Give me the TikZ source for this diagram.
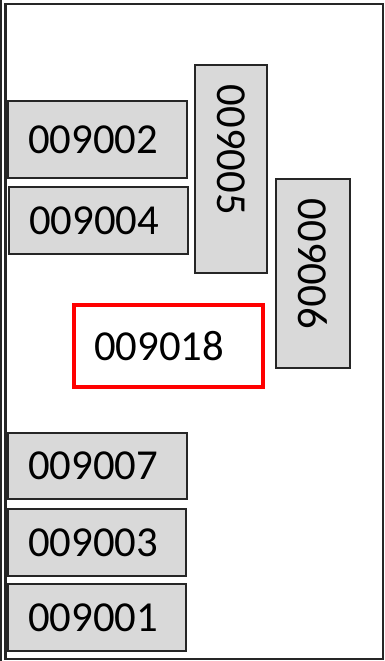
\documentclass[tikz,border=0pt]{standalone}
\usepackage{fontspec}
\setmainfont{Carlito}
\usetikzlibrary{calc}

\begin{document}
\begin{tikzpicture}

    \tikzset{cell/.style={draw, line width=.065cm, draw=black!85, fill=gray!30, align=left, inner xsep=.5cm, inner ysep=0,
        font=\fontsize{30.4}{36}\selectfont}}
    \useasboundingbox (0, 0) rectangle (9.625, 16.525);
    \draw [line width=.05cm, black!85] (.03, 0) -- (.03, 16.525);
    \draw [line width=.065cm, black!85] (.14, .05) rectangle (9.575, 16.425);

    \node [cell, text width=3.475cm, minimum height=1.925cm] (R2) at (2.4375, 13.0375) {009002};
        \node [cell, text width=3.475cm, minimum height=1.675cm] (R4) at ($(R2) + (.025, -2.025)$) {009004};
    \node [cell, rotate=-90, text width=4.2cm, minimum height=1.8cm] (R5) at (5.775, 12.3) {009005};
    \node [cell, rotate=-90, text width=3.725cm, minimum height=1.85cm] (R6) at (7.825, 9.6875) {009006};

    \node [cell, draw=red, fill=white, line width=.08cm, text width=3.725cm, minimum height=2.05cm] (S) at (4.2125, 7.875) {009018};

    \node [cell, text width=3.475cm, minimum height=1.65cm] (R7) at (2.4375, 4.875) {009007};
        \node [cell, text width=3.45cm, minimum height=1.675cm] (R3) at ($(R7) + (-.0125, -1.9125)$) {009003};
        \node [cell, text width=3.45cm, minimum height=1.675cm] (R1) at ($(R3) + (0, -1.875)$) {009001};

\end{tikzpicture}
\end{document}
